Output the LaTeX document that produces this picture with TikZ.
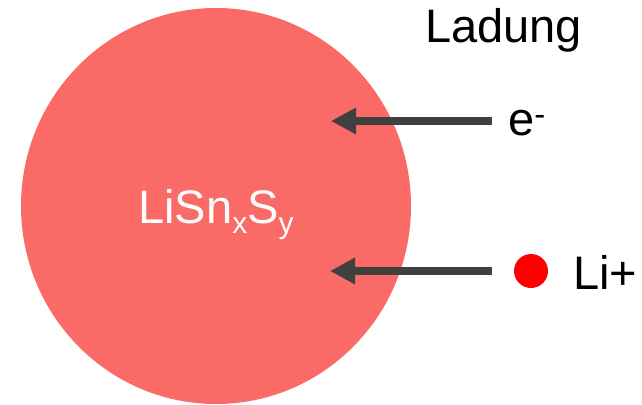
\documentclass[tikz,border=0pt]{standalone}
\usepackage{fontspec}
\setmainfont{Liberation Sans}
\usetikzlibrary{arrows.meta,shapes.geometric}
\definecolor{blob}{RGB}{250,106,102}
\definecolor{arrowgray}{RGB}{64,64,64}
\newcommand\mysub[1]{\raisebox{-10pt}{\fontsize{30}{30}\selectfont #1}}
\tikzset{
  lbl/.style={anchor=base west, inner sep=0pt, font=\fontsize{47}{50}\selectfont},
  flow/.style={draw=arrowgray, line width=8pt, -{Triangle[length=25pt,width=25pt]}}
}
\begin{document}
\begin{tikzpicture}[x=1pt,y=-1pt]
\useasboundingbox (0,0) rectangle (642,404);
\node[ellipse, fill=blob, minimum width=390pt, minimum height=396pt, inner sep=0pt] (particle) at (216,206) {};
\node[lbl, text=white] (formula) at (138,223) {LiSn\mysub{x}S\mysub{y}};
\node[lbl] (ladung) at (425,43) {Ladung};
\node[lbl] (electron) at (508,135) {e\textsuperscript{-}};
\node[circle, fill=red, minimum size=34pt, inner sep=0pt] (ion) at (531,271) {};
\node[lbl] (li) at (573,289) {Li+};
\coordinate (eS) at (492,121);
\coordinate (eT) at (331,121);
\coordinate (lS) at (492,271);
\coordinate (lT) at (330,271);
\draw[flow] (eS) -- (eT);
\draw[flow] (lS) -- (lT);
\end{tikzpicture}
\end{document}
